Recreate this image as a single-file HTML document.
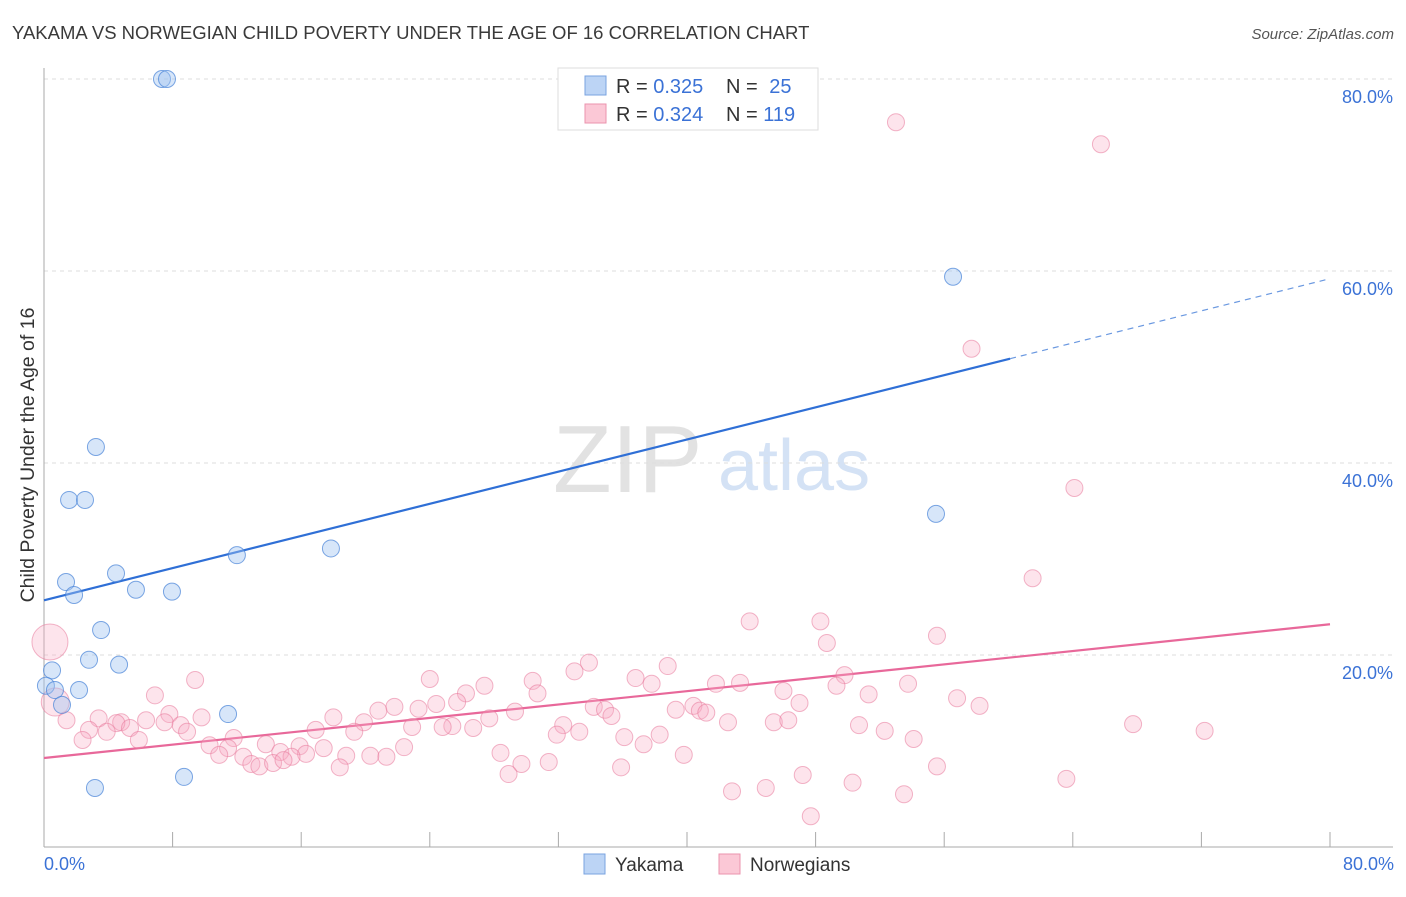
<!DOCTYPE html>
<html><head><meta charset="utf-8"><style>
body{margin:0;background:#fff;font-family:"Liberation Sans",sans-serif;}
svg text{font-family:"Liberation Sans",sans-serif;}
</style></head><body>
<svg width="1406" height="892" viewBox="0 0 1406 892" xmlns="http://www.w3.org/2000/svg">
<text x="12" y="39" font-size="18.5" fill="#3a3a3a">YAKAMA VS NORWEGIAN CHILD POVERTY UNDER THE AGE OF 16 CORRELATION CHART</text>
<text x="1394" y="39" font-size="15" fill="#555" font-style="italic" text-anchor="end">Source: ZipAtlas.com</text>
<g>
<text x="553" y="492" font-size="96" fill="#e2e2e2" font-family="Liberation Serif,serif">ZIP</text>
<text x="718" y="490" font-size="72" fill="#d4e2f5">atlas</text>
</g>
<g id="grid"></g>
<g id="axes"></g>
<g id="lines"></g>
<g id="pts"></g>
<text transform="translate(34,455) rotate(-90)" font-size="19.5" fill="#333" text-anchor="middle">Child Poverty Under the Age of 16</text>
<text x="44" y="870" font-size="18" fill="#3b72d6">0.0%</text>
<text x="1394" y="870" font-size="18" fill="#3b72d6" text-anchor="end">80.0%</text>
<g>
<rect x="558" y="68" width="260" height="62" fill="#fff" stroke="#ddd"/>
<rect x="585" y="76" width="21" height="19" fill="#bcd4f5" stroke="#7aa3e0"/>
<rect x="585" y="104" width="21" height="19" fill="#fbc8d6" stroke="#eb93ae"/>
<text x="616" y="93" font-size="20" fill="#333">R = <tspan fill="#3b72d6">0.325</tspan></text>
<text x="726" y="93" font-size="20" fill="#333">N = <tspan fill="#3b72d6" dx="6">25</tspan></text>
<text x="616" y="121" font-size="20" fill="#333">R = <tspan fill="#3b72d6">0.324</tspan></text>
<text x="726" y="121" font-size="20" fill="#333">N = <tspan fill="#3b72d6">119</tspan></text>
</g>
<g>
<rect x="584" y="854" width="21" height="20" fill="#bcd4f5" stroke="#7aa3e0"/>
<text x="615" y="871" font-size="19" fill="#333">Yakama</text>
<rect x="719" y="854" width="21" height="20" fill="#fbc8d6" stroke="#eb93ae"/>
<text x="750" y="871" font-size="19" fill="#333">Norwegians</text>
</g>
</svg>
<script>
const yTicks=[20,40,60,80];
const yTickLabels=["20.0%","40.0%","60.0%","80.0%"];
const xTicks=[8,16,24,32,40,48,56,64,72,80];
const yakamaX=[7.34,7.65,3.23,1.56,2.55,56.55,55.49,12.0,17.85,1.37,4.48,1.87,5.72,7.96,3.55,2.8,4.67,0.5,0.12,0.68,2.18,1.12,11.45,8.71,3.17];
const yakamaY=[80,80,41.67,36.15,36.15,59.4,34.7,30.4,31.1,27.6,28.5,26.25,26.8,26.6,22.6,19.5,19.0,18.4,16.8,16.35,16.35,14.8,13.85,7.3,6.15];
const norX=[53.0,65.75,57.7,64.1,61.5,43.9,48.3,55.55,48.7,38.8,33.9,33.0,49.8,24.0,30.4,9.4,36.8,37.8,41.8,43.3,27.4,30.7,26.25,46.0,49.3,53.75,51.3,6.9,56.8,47.0,58.2,25.7,34.2,34.9,23.3,20.8,21.8,24.4,29.3,39.3,40.4,40.8,41.2,7.8,9.8,18.0,35.3,27.7,19.9,1.4,3.4,4.8,7.5,4.5,6.35,8.5,42.55,45.4,46.3,50.7,67.75,72.2,25.4,24.8,26.7,32.3,16.9,2.8,3.9,5.35,8.9,22.9,19.3,33.3,31.9,38.3,36.1,52.3,37.3,54.1,11.8,5.9,2.4,10.3,13.8,15.9,17.4,22.4,11.45,14.7,10.9,12.4,16.3,18.8,20.3,21.3,28.4,39.8,15.4,12.9,13.4,14.25,14.9,29.7,31.4,35.9,55.55,18.4,28.9,47.2,63.6,50.3,42.8,44.9,53.5,47.7,0.37,0.7];
const norY=[75.5,73.2,51.9,37.4,28.0,23.5,23.5,22.0,21.25,18.85,19.2,18.3,17.9,17.5,17.3,17.4,17.6,17.0,17.0,17.1,16.8,16.0,16.0,16.25,16.8,17.0,15.9,15.8,15.5,15.0,14.7,15.1,14.6,14.3,14.4,14.2,14.6,14.9,14.1,14.3,14.7,14.2,14.0,13.85,13.5,13.5,13.65,13.4,13.0,13.2,13.4,13.0,13.0,12.9,13.2,12.7,13.0,13.0,13.2,12.7,12.8,12.1,12.6,12.5,12.4,12.7,12.2,12.2,12.0,12.4,12.0,12.5,12.0,12.0,11.7,11.7,11.45,12.1,10.7,11.25,11.35,11.15,11.15,10.6,10.7,10.5,10.3,10.4,10.3,9.9,9.6,9.4,9.7,9.5,9.5,9.4,9.8,9.6,9.4,8.65,8.4,8.75,9.05,8.65,8.85,8.3,8.4,8.3,7.6,7.5,7.1,6.7,5.8,6.15,5.5,3.2,21.35,15.1];
const norR=[];for(let i=0;i<norX.length;i++)norR.push(8.5);norR[norR.length-2]=18;norR[norR.length-1]=14;
const yakamaTrend=[25.7,59.2];
const norTrend=[9.27,23.2];
const yakamaSolidEnd=60.1;

const NS="http://www.w3.org/2000/svg";
const sx=v=>44+v*16.075, sy=v=>847-v*9.6;
function mk(tag,attrs,parent){const e=document.createElementNS(NS,tag);for(const k in attrs)e.setAttribute(k,attrs[k]);parent.appendChild(e);return e;}
const grid=document.getElementById('grid'),axes=document.getElementById('axes'),lines=document.getElementById('lines'),pts=document.getElementById('pts');
yTicks.forEach((t,i)=>{
 const l=mk('line',{x1:44,x2:1393,y1:sy(t),y2:sy(t),stroke:'#ddd','stroke-dasharray':'4,4'},grid);
 
 
 const tx=mk('text',{x:1393,y:sy(t)+24,'font-size':18,fill:'#3b72d6','text-anchor':'end'},axes);
 tx.textContent=yTickLabels[i];
 
 
});
const ya=mk('line',{x1:44,x2:44,y1:68,y2:847,stroke:'#aaa'},axes);


const xa=mk('line',{x1:44,x2:1393,y1:847,y2:847,stroke:'#aaa'},axes);


xTicks.forEach(t=>{
 const l=mk('line',{x1:sx(t),x2:sx(t),y1:832,y2:847,stroke:'#aaa'},axes);
 
 
});
const slope=(yakamaTrend[1]-yakamaTrend[0])/80;
const ys=yakamaTrend[0]+slope*yakamaSolidEnd;
const bl=mk('line',{x1:sx(0),y1:sy(yakamaTrend[0]),x2:sx(yakamaSolidEnd),y2:sy(ys),stroke:'#2f6fd6','stroke-width':2.2},lines);


const bd=mk('line',{x1:sx(yakamaSolidEnd),y1:sy(ys),x2:sx(80),y2:sy(yakamaTrend[1]),stroke:'#6a98e0','stroke-width':1.2,'stroke-dasharray':'6,5'},lines);


const pl=mk('line',{x1:sx(0),y1:sy(norTrend[0]),x2:sx(80),y2:sy(norTrend[1]),stroke:'#e8689a','stroke-width':2.2},lines);


norX.forEach((v,i)=>{
 const c=mk('circle',{cx:sx(v),cy:sy(norY[i]),r:norR[i],fill:'rgba(248,170,195,0.32)',stroke:'rgba(232,120,155,0.55)','stroke-width':1},pts);
 
 
});
yakamaX.forEach((v,i)=>{
 const c=mk('circle',{cx:sx(v),cy:sy(yakamaY[i]),r:8.5,fill:'rgba(160,195,240,0.42)',stroke:'rgba(70,130,215,0.7)','stroke-width':1},pts);
 
 
});
</script>
</body></html>
